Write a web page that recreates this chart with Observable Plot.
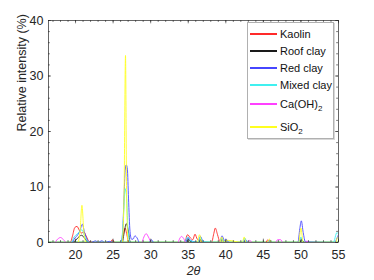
<!DOCTYPE html>
<html>
<head>
<meta charset="utf-8">
<script src="https://cdn.jsdelivr.net/npm/d3@7"></script>
<script src="https://cdn.jsdelivr.net/npm/@observablehq/plot@0.6"></script>
<style>
  body { margin: 0; background: #fff; }
  #wrap { position: relative; width: 374px; height: 280px; font-family: "Liberation Sans", Arial, sans-serif; }
  #legend { position: absolute; left: 247px; top: 22px; width: 85px; height: 115px; background: #fff;
            border: 1px solid #b0b0b0; box-shadow: 1px 1px 0 #d8d8d8; font-size: 11px; color: #111; }
  .item { position: absolute; left: 2px; height: 14px; display: flex; align-items: center; }
  .item .sw { width: 27px; height: 1.3px; margin-right: 3px; }
  sub { font-size: 8px; vertical-align: -3px; line-height: 0; }
</style>
</head>
<body>
<div id="wrap"></div>
<script>
// ---- data: [2θ, relative intensity %] ----
const kaolin = [[16.4,0],[19.3,0],[19.6,1.2],[19.9,2.7],[20.2,2.9],[20.5,2.2],[20.8,1.7],[21.1,1.9],[21.4,1.2],[21.8,0.2],[22.5,0],[24.6,0],[24.9,0.5],[25.2,0],[26.1,0],[26.4,1.8],[26.6,2.6],[26.8,1.6],[27.1,0],[34.5,0],[34.9,1.4],[35.3,0.8],[35.6,0.5],[35.9,1.5],[36.2,0.6],[36.6,0.3],[38.1,0],[38.4,1.6],[38.6,2.6],[38.9,1.4],[39.2,0.2],[39.7,0],[45.3,0],[45.6,0.5],[45.9,0],[55,0]];
const roofClay = [[16.4,0],[19.6,0],[20.0,0.4],[20.5,1.1],[20.8,1.3],[21.2,0.8],[21.6,0.1],[22,0],[26.2,0],[26.5,2.0],[26.75,3.4],[27.0,2.3],[27.3,0],[34.8,0],[35.0,0.6],[35.3,0.2],[36.4,0],[36.6,0.6],[36.9,0],[39.2,0],[39.5,0.6],[39.8,0],[42.3,0],[42.5,0.3],[42.7,0],[49.8,0],[50.1,0.5],[50.4,0],[55,0]];
const redClay = [[16.4,0],[19.5,0],[19.9,0.8],[20.3,1.4],[20.6,2.2],[20.9,3.3],[21.2,1.8],[21.6,0.4],[22,0],[22.7,0.3],[23.0,0],[23.5,0.3],[23.9,0],[24.5,0.2],[25,0],[26.05,0],[26.25,1.5],[26.45,8],[26.6,13],[26.75,14.0],[26.9,13.2],[27.05,8],[27.25,2],[27.45,0.6],[27.65,0.6],[27.9,1.2],[28.2,0.8],[28.5,0],[29.8,0],[30.1,0.5],[30.4,0],[34.6,0],[35.0,0.9],[35.3,0.4],[36.3,0],[36.6,1.1],[36.9,0.4],[37.2,0],[39.2,0],[39.5,1.2],[39.8,0.4],[40.1,0.5],[40.4,0],[42.3,0],[42.6,0.6],[42.9,0],[45.5,0],[45.8,0.4],[46.1,0],[49.6,0],[49.85,2.5],[50.05,3.9],[50.3,1.8],[50.6,0.1],[54.5,0],[54.8,0.8],[55,1.4]];
const mixedClay = [[16.4,0],[19.4,0],[19.8,1.0],[20.2,1.5],[20.6,2.0],[20.85,2.3],[21.2,1.2],[21.6,0.2],[22,0],[26.1,0],[26.35,4],[26.6,9.7],[26.8,8],[27.0,2],[27.3,0],[34.5,0],[34.9,1.0],[35.2,0.4],[36.3,0],[36.6,1.0],[36.9,0.2],[39.2,0],[39.5,0.8],[39.8,0],[42.2,0],[42.5,0.8],[42.8,0],[45.6,0],[45.9,0.4],[46.2,0],[49.7,0],[50.0,1.0],[50.3,0],[54.3,0],[54.8,1.8],[55,1.5]];
const caoh2 = [[16.4,0],[17.2,0],[17.6,0.6],[18.0,0.9],[18.4,0.5],[18.8,0],[22,0],[28.8,0],[29.1,1.0],[29.4,1.6],[29.7,1.0],[30.1,0],[33.6,0],[33.9,0.8],[34.1,1.1],[34.4,0.7],[34.7,0],[42.9,0],[43.2,0.4],[43.5,0],[46.6,0],[46.9,0.5],[47.3,0.5],[47.6,0],[50.6,0],[50.8,0.3],[51,0],[55,0]];
const sio2 = [[16.4,0],[20.3,0],[20.6,2.0],[20.85,6.7],[21.1,2.0],[21.4,0],[26.2,0],[26.45,8],[26.65,33.7],[26.8,8],[27.0,0],[36.2,0],[36.5,1.4],[36.8,0],[39.2,0],[39.45,1.0],[39.7,0],[40.2,0.4],[42.2,0],[42.45,1.0],[42.7,0],[45.5,0],[45.8,0.6],[46.1,0],[49.7,0],[50.0,2.6],[50.3,0],[54.6,0],[54.9,0.9],[55,0.8]];
const greenBase = [[16.4,0.1],[55,0.1]];
const orangeBase = [[16.4,0],[55,0]];

const seriesNames = ["Kaolin", "Roof clay", "Red clay", "Mixed clay", "Ca(OH)<sub>2</sub>", "SiO<sub>2</sub>"];
const seriesColors = ["#ff2a2a", "#1a1a1a", "#4646ff", "#40f0f0", "#ff40ff", "#ffff20"];
const seriesData = [kaolin, roofClay, redClay, mixedClay, caoh2, sio2];

const xDomain = [16.4, 55];
const yDomain = [0, 40];
const xTicks = [20, 25, 30, 35, 40, 45, 50, 55];
const xMinor = d3.range(17, 56, 1);
const yTicks = [0, 10, 20, 30, 40];
const yMinor = d3.range(0, 41, 2);

const axisColor = "#262626";
const lines = seriesData.map((d, i) => Plot.line(d, {x: d => d[0], y: d => d[1], stroke: seriesColors[i], strokeWidth: 0.9, curve: "monotone-x", clip: true}));

const chart = Plot.plot({
  width: 374, height: 280,
  marginLeft: 48, marginRight: 36, marginTop: 20, marginBottom: 38,
  style: {fontFamily: "Liberation Sans, Arial, sans-serif", fontSize: "12px", color: axisColor, background: "#fff"},
  x: {domain: xDomain},
  y: {domain: yDomain},
  marks: [
    Plot.line(greenBase, {x: d => d[0], y: d => d[1], stroke: "#30c030", strokeWidth: 0.8, clip: true}),
    Plot.line(orangeBase, {x: d => d[0], y: d => d[1], stroke: "#e08020", strokeWidth: 1, clip: true}),
    ...lines,
    // inward ticks (MATLAB-like box)
    Plot.ruleX(xMinor, {x: d => d, y1: 0, y2: 0.35, stroke: axisColor, strokeWidth: 0.6}),
    Plot.ruleX(xMinor, {x: d => d, y1: 40, y2: 39.65, stroke: axisColor, strokeWidth: 0.6}),
    Plot.ruleX(xTicks, {x: d => d, y1: 0, y2: 0.6, stroke: axisColor, strokeWidth: 0.6}),
    Plot.ruleX(xTicks, {x: d => d, y1: 40, y2: 39.4, stroke: axisColor, strokeWidth: 0.6}),
    Plot.ruleY(yMinor, {y: d => d, x1: 16.4, x2: 16.65, stroke: axisColor, strokeWidth: 0.6}),
    Plot.ruleY(yMinor, {y: d => d, x1: 55, x2: 54.75, stroke: axisColor, strokeWidth: 0.6}),
    Plot.ruleY(yTicks, {y: d => d, x1: 16.4, x2: 16.8, stroke: axisColor, strokeWidth: 0.6}),
    Plot.ruleY(yTicks, {y: d => d, x1: 55, x2: 54.6, stroke: axisColor, strokeWidth: 0.6}),
    Plot.frame({stroke: axisColor, strokeWidth: 0.7}),
    Plot.axisX(xTicks, {tickSize: 0, tickPadding: 8, label: null, fontSize: 12.5, fill: axisColor}),
    Plot.axisY(yTicks, {tickSize: 0, tickPadding: 5, label: null, fontSize: 12.5, fill: axisColor}),
    Plot.text(["Relative intensity (%)"], {frameAnchor: "left", rotate: -90, dx: -27, fontSize: 12.5, fill: axisColor}),
    Plot.text(["2θ"], {frameAnchor: "bottom", dy: 32, fontSize: 12.5, fontStyle: "italic", fill: axisColor})
  ]
});

const wrap = document.getElementById("wrap");
wrap.appendChild(chart);
const legend = document.createElement("div");
legend.id = "legend";
const tops = [4, 21, 38, 55, 74, 97];
seriesNames.forEach((name, i) => {
  const it = document.createElement("div");
  it.className = "item";
  it.style.top = tops[i] + "px";
  it.innerHTML = `<span class="sw" style="background:${seriesColors[i]}"></span><span>${name}</span>`;
  legend.appendChild(it);
});
wrap.appendChild(legend);
</script>
</body>
</html>
